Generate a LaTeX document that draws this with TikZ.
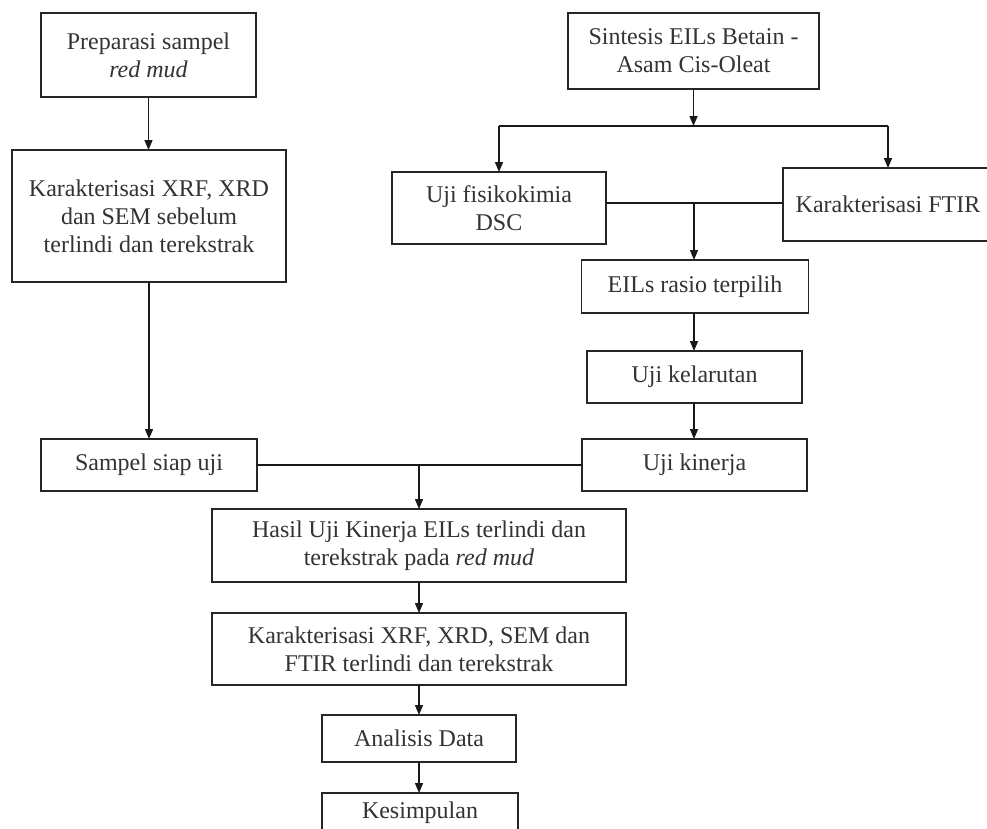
\documentclass[tikz,border=0pt]{standalone}
\usepackage{fontspec}
\setmainfont{Liberation Serif}
\usetikzlibrary{arrows.meta}
\tikzset{
  box/.style={draw=black!85, line width=1.8pt, inner sep=0pt, outer sep=0pt,
    align=center, text=black!80, font=\fontsize{24}{28}\selectfont},
  arr/.style={-{Triangle[length=10pt,width=8pt]}, line width=1.4pt, draw=black!90},
  ln/.style={line width=1.4pt, draw=black!90}
}
\begin{document}
\begin{tikzpicture}[x=1pt,y=-1pt]
\useasboundingbox (0,0) rectangle (987,828);
\clip (0,0) rectangle (987,828);
\fill[white] (0,0) rectangle (987,828);
% left column
\node[box, minimum width=215pt, minimum height=84pt] (prep) at (148.5,55) {Preparasi sampel\\\textit{red mud}};
\node[box, minimum width=274pt, minimum height=132pt] (kar1) at (149,216) {Karakterisasi XRF, XRD\\dan SEM sebelum\\terlindi dan terekstrak};
\node[box, minimum width=216pt, minimum height=52pt] (samp) at (149,465) {Sampel siap uji};
% right column
\node[box, minimum width=251pt, minimum height=76pt] (sint) at (693.5,51) {Sintesis EILs Betain -\\Asam Cis-Oleat};
\node[box, minimum width=214pt, minimum height=72pt] (dsc) at (499,208) {Uji fisikokimia\\DSC};
\node[box, minimum width=210pt, minimum height=73pt] (ftir) at (888,204.5) {Karakterisasi FTIR};
\node[box, minimum width=227pt, minimum height=53pt] (eils) at (695,286.5) {EILs rasio terpilih};
\node[box, minimum width=215pt, minimum height=52pt] (kel) at (694.5,377) {Uji kelarutan};
\node[box, minimum width=225pt, minimum height=52pt] (kin) at (694.5,465) {Uji kinerja};
% bottom column
\node[box, minimum width=414pt, minimum height=73pt] (hasil) at (419,545.5) {Hasil Uji Kinerja EILs terlindi dan\\terekstrak pada \textit{red mud}};
\node[box, minimum width=414pt, minimum height=72pt] (kar2) at (419,649) {Karakterisasi XRF, XRD, SEM dan\\FTIR terlindi dan terekstrak};
\node[box, minimum width=194pt, minimum height=47pt] (anal) at (419,738.5) {Analisis Data};
\node[box, minimum width=196pt, minimum height=40pt] (kes) at (420,813) {Kesimpulan};
% junctions
\coordinate (j1) at (694,126);
\coordinate (j2) at (694,203);
\coordinate (j3) at (419,465);
% connectors left
\draw[arr] (prep.south) -- (prep.south |- kar1.north);
\draw[arr] (kar1.south) -- (kar1.south |- samp.north);
% connectors right
\draw[arr] (sint.south) -- (sint.south |- j1);
\draw[ln] (dsc.north |- j1) -- (ftir.north |- j1);
\draw[arr] (dsc.north |- j1) -- (dsc.north);
\draw[arr] (ftir.north |- j1) -- (ftir.north);
\draw[ln] (dsc.east |- j2) -- (ftir.west |- j2);
\draw[arr] (j2) -- (j2 |- eils.north);
\draw[arr] (j2 |- eils.south) -- (j2 |- kel.north);
\draw[arr] (j2 |- kel.south) -- (j2 |- kin.north);
% merge
\draw[ln] (samp.east) -- (kin.west);
\draw[arr] (j3) -- (hasil.north);
\draw[arr] (hasil.south) -- (kar2.north);
\draw[arr] (kar2.south) -- (anal.north);
\draw[arr] (anal.south) -- (anal.south |- kes.north);
\end{tikzpicture}
\end{document}
